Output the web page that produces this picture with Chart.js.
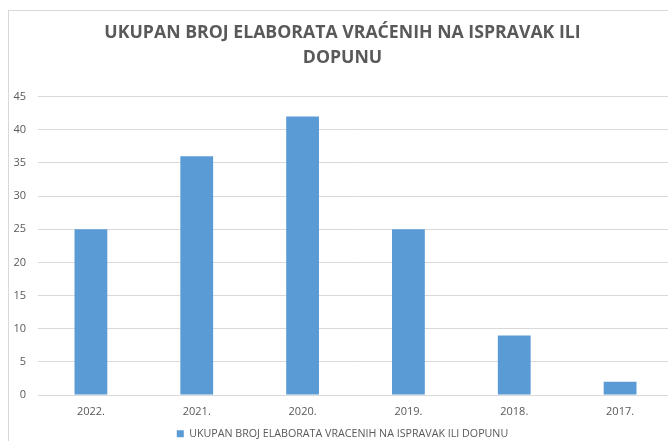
<!DOCTYPE html>
<html>
<head>
<meta charset="utf-8">
<script src="https://cdn.jsdelivr.net/npm/chart.js@4"></script>
<style>
  html, body { margin: 0; padding: 0; background: #fff; overflow: hidden; }
  .chart-box {
    position: absolute; left: 8px; top: 10px;
    width: 672px; height: 440px;
    border: 1px solid #d9d9d9; box-sizing: border-box;
  }
  .chart-box canvas { display: block; }
</style>
</head>
<body>
<div class="chart-box">
  <canvas id="chart" width="670" height="438"></canvas>
</div>
<script>
  const titleLines = ["UKUPAN BROJ ELABORATA VRAĆENIH NA ISPRAVAK ILI", "DOPUNU"];
  const seriesName = "UKUPAN BROJ ELABORATA VRAĆENIH NA ISPRAVAK ILI DOPUNU";
  const years = ["2022.", "2021.", "2020.", "2019.", "2018.", "2017."];
  const counts = [25, 36, 42, 25, 9, 2];

  const textGray = "#595959";
  const gridGray = "#d9d9d9";
  const font = "'Open Sans', 'Liberation Sans', sans-serif";

  new Chart(document.getElementById("chart"), {
    type: "bar",
    data: {
      labels: years,
      datasets: [{
        label: seriesName,
        data: counts,
        backgroundColor: "#5b9bd5",
        barPercentage: 0.62,
        categoryPercentage: 0.5
      }]
    },
    options: {
      responsive: false,
      animation: false,
      layout: { padding: { top: 8, left: 3, right: 6, bottom: 0 } },
      plugins: {
        title: {
          display: true,
          text: titleLines,
          color: textGray,
          font: { family: font, size: 17.7, weight: "bold", lineHeight: 1.4 },
          padding: { top: 2, bottom: 26 }
        },
        legend: {
          position: "bottom",
          labels: {
            color: textGray,
            font: { family: font, size: 10.7 },
            boxWidth: 7,
            boxHeight: 7,
            padding: 0
          }
        },
        tooltip: { enabled: false }
      },
      scales: {
        x: {
          grid: { display: false, drawTicks: false },
          border: { color: gridGray },
          ticks: { color: textGray, font: { family: font, size: 11 }, padding: 10 }
        },
        y: {
          min: 0,
          max: 45,
          afterFit: (scale) => { scale.width = 26; },
          ticks: { stepSize: 5, color: textGray, font: { family: font, size: 11 }, padding: 12 },
          grid: { color: gridGray, drawTicks: false },
          border: { display: false }
        }
      }
    }
  });
</script>
</body>
</html>
